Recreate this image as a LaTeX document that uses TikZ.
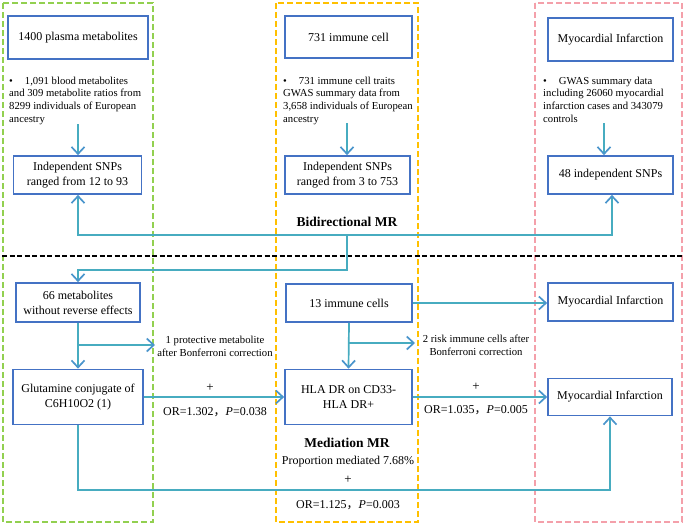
\documentclass[tikz,border=0pt]{standalone}
\usepackage{fontspec}
\setmainfont{Liberation Serif}
\newfontfamily\cjk{Noto Sans CJK SC}
\usetikzlibrary{arrows.meta}
\definecolor{boxblue}{HTML}{4472C4}
\definecolor{linkcol}{HTML}{47ACC0}
\definecolor{tipcol}{HTML}{4A95CC}
\definecolor{fgreen}{HTML}{92D050}
\definecolor{forange}{HTML}{FFC000}
\definecolor{fpink}{HTML}{F4A0AA}
\newcommand{\fwc}{{\cjk ，}}
\begin{document}
\begin{tikzpicture}[x=1pt,y=-1pt,
 box/.style={draw=boxblue, line width=1.7pt, fill=white, align=center, inner sep=0pt, font=\fontsize{12}{15}\selectfont},
 note/.style={align=left, anchor=north west, inner sep=0pt, font=\fontsize{10.7}{12.8}\selectfont},
 small/.style={align=center, inner sep=0pt, font=\fontsize{10.7}{13}\selectfont},
 lbl/.style={inner sep=0pt, font=\fontsize{12}{15}\selectfont},
 plus/.style={inner sep=0pt, font=\fontsize{13}{15}\selectfont},
 ttl/.style={inner sep=0pt, font=\fontsize{13.5}{16}\selectfont\bfseries},
 link/.style={draw=linkcol, line width=1.7pt},
 tip/.style={},
 arr/.style={link, -{Straight Barb[length=7pt,width=13pt,color=tipcol]}},
 arrboth/.style={link, {Straight Barb[length=7pt,width=13pt,color=tipcol]}-{Straight Barb[length=7pt,width=13pt,color=tipcol]}},
 frame/.style={line width=1.8pt, dash pattern=on 6pt off 3pt}]
\useasboundingbox (0,0) rectangle (685,525);
\fill[white] (0,0) rectangle (685,525);

% dashed frames
\draw[frame, draw=fgreen] (3,3) rectangle (153,522);
\draw[frame, draw=forange] (276,3) rectangle (418,522);
\draw[frame, draw=fpink] (535,3) rectangle (682,522);
\draw[line width=1.8pt, dash pattern=on 5pt off 2.5pt, draw=black] (2,256) -- (683,256);

% top boxes
\node[box, minimum width=140pt, minimum height=43pt] (meta) at (78,37.5) {1400 plasma metabolites};
\node[box, minimum width=127pt, minimum height=42pt] (imm) at (348.5,37) {731 immune cell};
\node[box, minimum width=125pt, minimum height=43pt] (mi1) at (610.5,39.5) {Myocardial Infarction};

\node[note] (n1) at (9,76.5) {•\hspace{12pt}1,091 blood metabolites\\and 309 metabolite ratios from\\8299 individuals of European\\ancestry};
\node[note] (n2) at (283,76.5) {•\hspace{12pt}731 immune cell traits\\GWAS summary data from\\3,658 individuals of European\\ancestry};
\node[note] (n3) at (543,76.5) {•\hspace{12pt}GWAS summary data\\including 26060 myocardial\\infarction cases and 343079\\controls};

\node[box, minimum width=128pt, minimum height=38pt] (snp1) at (77.5,175) {Independent SNPs\\ranged from 12 to 93};
\node[box, minimum width=125pt, minimum height=38pt] (snp2) at (347.5,175) {Independent SNPs\\ranged from 3 to 753};
\node[box, minimum width=125pt, minimum height=38pt] (snp3) at (610.5,175) {48 independent SNPs};

\coordinate (b1) at (78,124);
\coordinate (b2) at (347,123);
\coordinate (b3) at (604,123);
\draw[arr] (b1) -- (b1 |- snp1.north);
\draw[arr] (b2) -- (b2 |- snp2.north);
\draw[arr] (b3) -- (b3 |- snp3.north);

\node[ttl] (bid) at (347,222) {Bidirectional MR};

\coordinate (jl) at (78,235);
\coordinate (jn) at (347,235);
\coordinate (jr) at (612,235);
\coordinate (bend) at (347,270);
\draw[arrboth] (jl |- snp1.south) -- (jl) -- (jr) -- (jr |- snp3.south);

% lower boxes
\node[box, minimum width=124pt, minimum height=39pt] (m66) at (78,302.5) {66 metabolites\\without reverse effects};
\node[box, minimum width=130pt, minimum height=55pt] (glu) at (78,397) {Glutamine conjugate of\\C6H10O2 (1)};
\node[box, minimum width=126pt, minimum height=38pt] (im13) at (349,303) {13 immune cells};
\node[box, minimum width=127pt, minimum height=55pt] (hla) at (348.5,397) {HLA DR on CD33-\\HLA DR+};
\node[box, minimum width=125pt, minimum height=38pt] (mi2) at (610.5,302) {Myocardial Infarction};
\node[box, minimum width=124pt, minimum height=37pt] (mi3) at (610,397) {Myocardial Infarction};

\draw[arr] (jn) -- (bend) -| (m66.north);

\draw[arr] (m66.south) -- (glu.north);
\coordinate (br1) at (78,345);
\coordinate (t1) at (155,345);
\draw[arr] (br1) -- (t1);
\node[small] (pm) at (215,346.5) {1 protective metabolite\\after Bonferroni correction};

\draw[arr] (glu.east) -- (hla.west);
\node[plus] (pl1) at (210,388) {+};
\node[lbl] (or1) at (215,412) {OR=1.302\fwc\textit{P}=0.038};

\draw[arr] (im13.east) -- (im13.east -| mi2.west);
\draw[arr] (im13.south) -- (hla.north);
\coordinate (br2) at (348,343);
\coordinate (t2) at (415,343);
\draw[arr] (br2) -- (t2);
\node[small] (rc) at (476,345.5) {2 risk immune cells after\\Bonferroni correction};

\draw[arr] (hla.east) -- (mi3.west);
\node[plus] (pl2) at (476,387) {+};
\node[lbl] (or2) at (476,410) {OR=1.035\fwc\textit{P}=0.005};

\coordinate (low) at (78,490);
\draw[arr] (glu.south) -- (low) -| (mi3.south);

\node[ttl] (med) at (347,443) {Mediation MR};
\node[lbl] (prop) at (348,462) {Proportion mediated 7.68\%};
\node[plus] (pl3) at (348,480) {+};
\node[lbl] (or3) at (348,505) {OR=1.125\fwc\textit{P}=0.003};
\end{tikzpicture}
\end{document}
